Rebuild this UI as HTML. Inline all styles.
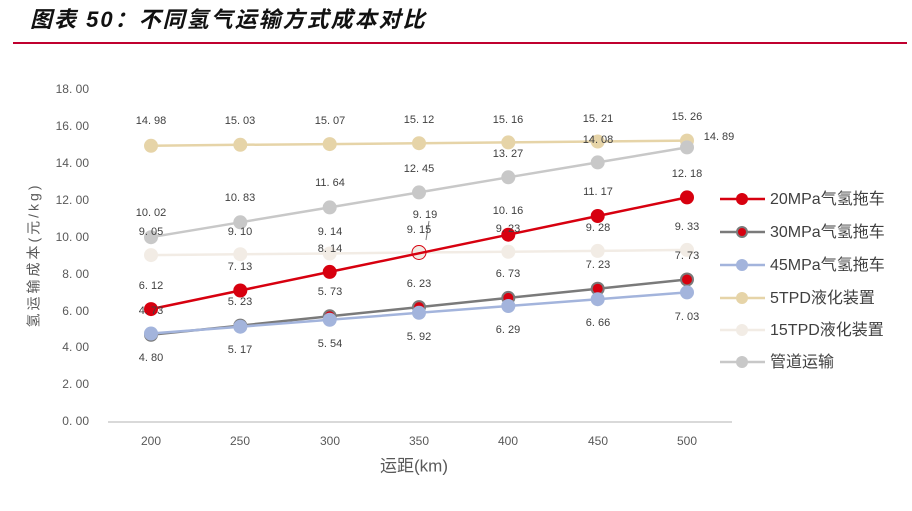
<!DOCTYPE html>
<html><head><meta charset="utf-8"><style>
body{margin:0;background:#fff;}
svg{display:block;font-family:"Liberation Sans","Noto Sans CJK SC",sans-serif;}
.t{font-size:11px;fill:#404040;text-anchor:middle;dominant-baseline:middle;}
.yt{font-size:12px;fill:#595959;text-anchor:end;dominant-baseline:middle;}
.lg{font-size:16px;fill:#404040;dominant-baseline:middle;}
</style></head><body>
<svg width="912" height="511" viewBox="0 0 912 511">
<text x="30" y="21" font-size="22" font-weight="bold" font-style="italic" fill="#111" letter-spacing="2" dominant-baseline="middle">图表 50：不同氢气运输方式成本对比</text>
<rect x="13" y="42" width="894" height="2" fill="#c0002f"/>
<g>
<text class="yt" x="89" y="90">18. 00</text><text class="yt" x="89" y="127">16. 00</text><text class="yt" x="89" y="164">14. 00</text><text class="yt" x="89" y="201">12. 00</text><text class="yt" x="89" y="238">10. 00</text><text class="yt" x="89" y="275">8. 00</text><text class="yt" x="89" y="312">6. 00</text><text class="yt" x="89" y="348">4. 00</text><text class="yt" x="89" y="385">2. 00</text><text class="yt" x="89" y="422">0. 00</text>
</g>
<line x1="108" y1="422" x2="732" y2="422" stroke="#d9d9d9" stroke-width="2"/>
<g font-size="12" fill="#595959" text-anchor="middle">
<text x="151" y="445">200</text><text x="240" y="445">250</text><text x="330" y="445">300</text><text x="419" y="445">350</text><text x="508" y="445">400</text><text x="598" y="445">450</text><text x="687" y="445">500</text>
</g>
<text x="414" y="467" font-size="17" fill="#595959" text-anchor="middle" dominant-baseline="middle">运距(km)</text>
<text transform="translate(35,255) rotate(-90)" font-size="14" letter-spacing="3" fill="#595959" text-anchor="middle" dominant-baseline="middle">氢运输成本(元/kg)</text>

<polyline fill="none" stroke="#f2ece5" stroke-width="2.5" points="151,255.1 240.3,254.2 329.7,253.5 419,252.5 508.3,251.8 597.7,250.9 687,249.9"/>
<g fill="#f2ece5"><circle cx="151" cy="255.1" r="7"/><circle cx="240.3" cy="254.2" r="7"/><circle cx="329.7" cy="253.5" r="7"/><circle cx="419" cy="252.5" r="7" stroke="#d7000f" stroke-width="1"/><circle cx="508.3" cy="251.8" r="7"/><circle cx="597.7" cy="250.9" r="7"/><circle cx="687" cy="249.9" r="7"/></g>
<polyline fill="none" stroke="#e6d4a8" stroke-width="2.5" points="151,145.8 240.3,144.8 329.7,144.1 419,143.2 508.3,142.4 597.7,141.5 687,140.6"/>
<g fill="#e6d4a8"><circle cx="151" cy="145.8" r="7"/><circle cx="240.3" cy="144.8" r="7"/><circle cx="329.7" cy="144.1" r="7"/><circle cx="419" cy="143.2" r="7"/><circle cx="508.3" cy="142.4" r="7"/><circle cx="597.7" cy="141.5" r="7"/><circle cx="687" cy="140.6" r="7"/></g>
<polyline fill="none" stroke="#c8c8c8" stroke-width="2.5" points="151,237.2 240.3,222.3 329.7,207.4 419,192.4 508.3,177.3 597.7,162.4 687,147.4"/>
<g fill="#c8c8c8"><circle cx="151" cy="237.2" r="7"/><circle cx="240.3" cy="222.3" r="7"/><circle cx="329.7" cy="207.4" r="7"/><circle cx="419" cy="192.4" r="7"/><circle cx="508.3" cy="177.3" r="7"/><circle cx="597.7" cy="162.4" r="7"/><circle cx="687" cy="147.4" r="7"/></g>
<polyline fill="none" stroke="#7a7a7a" stroke-width="2.5" points="151,334.8 240.3,325.6 329.7,316.3 419,307.1 508.3,297.9 597.7,288.7 687,279.5"/>
<g fill="#d7000f" stroke="#7a7a7a" stroke-width="2"><circle cx="151" cy="334.8" r="6"/><circle cx="240.3" cy="325.6" r="6"/><circle cx="329.7" cy="316.3" r="6"/><circle cx="419" cy="307.1" r="6"/><circle cx="508.3" cy="297.9" r="6"/><circle cx="597.7" cy="288.7" r="6"/><circle cx="687" cy="279.5" r="6"/></g>
<polyline fill="none" stroke="#a3b4dc" stroke-width="2.5" points="151,333.5 240.3,326.7 329.7,319.8 419,312.8 508.3,306 597.7,299.2 687,292.4"/>
<g fill="#a3b4dc"><circle cx="151" cy="333.5" r="7"/><circle cx="240.3" cy="326.7" r="7"/><circle cx="329.7" cy="319.8" r="7"/><circle cx="419" cy="312.8" r="7"/><circle cx="508.3" cy="306" r="7"/><circle cx="597.7" cy="299.2" r="7"/><circle cx="687" cy="292.4" r="7"/></g>
<polyline fill="none" stroke="#d7000f" stroke-width="2.5" points="151,309.1 240.3,290.5 329.7,271.9 419,253.3 508.3,234.7 597.7,216 687,197.4"/>
<g fill="#d7000f"><circle cx="151" cy="309.1" r="7"/><circle cx="240.3" cy="290.5" r="7"/><circle cx="329.7" cy="271.9" r="7"/><circle cx="508.3" cy="234.7" r="7"/><circle cx="597.7" cy="216" r="7"/><circle cx="687" cy="197.4" r="7"/></g>
<line x1="429" y1="221" x2="426" y2="240" stroke="#7a7a7a" stroke-width="1"/>

<g>
<text class="t" x="151" y="121">14. 98</text><text class="t" x="240" y="121">15. 03</text><text class="t" x="330" y="121">15. 07</text><text class="t" x="419" y="120">15. 12</text><text class="t" x="508" y="120">15. 16</text><text class="t" x="598" y="119">15. 21</text><text class="t" x="687" y="117">15. 26</text>
<text class="t" x="151" y="213">10. 02</text><text class="t" x="240" y="198">10. 83</text><text class="t" x="330" y="183">11. 64</text><text class="t" x="419" y="169">12. 45</text><text class="t" x="508" y="154">13. 27</text><text class="t" x="598" y="140">14. 08</text><text class="t" x="719" y="137">14. 89</text>
<text class="t" x="151" y="232">9. 05</text><text class="t" x="240" y="232">9. 10</text><text class="t" x="330" y="232">9. 14</text><text class="t" x="425" y="215">9. 19</text><text class="t" x="508" y="229">9. 23</text><text class="t" x="598" y="228">9. 28</text><text class="t" x="687" y="227">9. 33</text>
<text class="t" x="151" y="286">6. 12</text><text class="t" x="240" y="267">7. 13</text><text class="t" x="330" y="249">8. 14</text><text class="t" x="419" y="230">9. 15</text><text class="t" x="508" y="211">10. 16</text><text class="t" x="598" y="192">11. 17</text><text class="t" x="687" y="174">12. 18</text>
<text class="t" x="151" y="311">4. 73</text><text class="t" x="240" y="302">5. 23</text><text class="t" x="330" y="292">5. 73</text><text class="t" x="419" y="284">6. 23</text><text class="t" x="508" y="274">6. 73</text><text class="t" x="598" y="265">7. 23</text><text class="t" x="687" y="256">7. 73</text>
<text class="t" x="151" y="358">4. 80</text><text class="t" x="240" y="350">5. 17</text><text class="t" x="330" y="344">5. 54</text><text class="t" x="419" y="337">5. 92</text><text class="t" x="508" y="330">6. 29</text><text class="t" x="598" y="323">6. 66</text><text class="t" x="687" y="317">7. 03</text>
</g>

<g>
<line x1="720" y1="199" x2="765" y2="199" stroke="#d7000f" stroke-width="2.5"/><circle cx="742" cy="199" r="6" fill="#d7000f"/>
<text class="lg" x="770" y="200">20MPa气氢拖车</text>
<line x1="720" y1="232" x2="765" y2="232" stroke="#7a7a7a" stroke-width="2.5"/><circle cx="742" cy="232" r="5" fill="#d7000f" stroke="#7a7a7a" stroke-width="2"/>
<text class="lg" x="770" y="233">30MPa气氢拖车</text>
<line x1="720" y1="265" x2="765" y2="265" stroke="#a3b4dc" stroke-width="2.5"/><circle cx="742" cy="265" r="6" fill="#a3b4dc"/>
<text class="lg" x="770" y="266">45MPa气氢拖车</text>
<line x1="720" y1="298" x2="765" y2="298" stroke="#e6d4a8" stroke-width="2.5"/><circle cx="742" cy="298" r="6" fill="#e6d4a8"/>
<text class="lg" x="770" y="299">5TPD液化装置</text>
<line x1="720" y1="330" x2="765" y2="330" stroke="#f2ece5" stroke-width="2.5"/><circle cx="742" cy="330" r="6" fill="#f2ece5"/>
<text class="lg" x="770" y="331">15TPD液化装置</text>
<line x1="720" y1="362" x2="765" y2="362" stroke="#c8c8c8" stroke-width="2.5"/><circle cx="742" cy="362" r="6" fill="#c8c8c8"/>
<text class="lg" x="770" y="363">管道运输</text>
</g>
</svg>
</body></html>
